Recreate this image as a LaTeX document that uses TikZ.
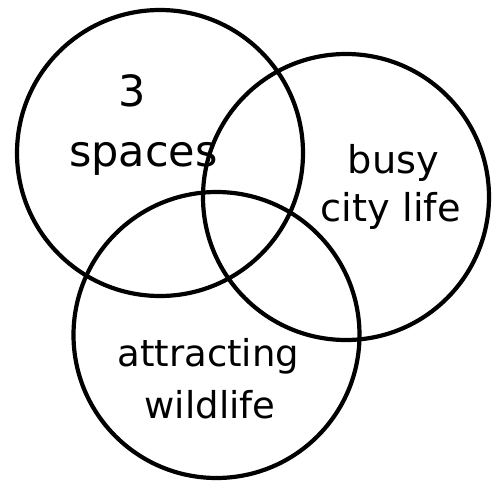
\documentclass[tikz,border=0pt]{standalone}
\usepackage{fontspec}
\setmainfont{DejaVu Sans}
\begin{document}
\begin{tikzpicture}[x=1pt,y=-1pt,
  ring/.style={circle,draw=black,line width=4.2pt,minimum size=286pt,inner sep=0pt,outer sep=0pt},
  lblA/.style={anchor=base,inner sep=0pt,font=\fontsize{43}{43}\selectfont},
  lblB/.style={anchor=base,inner sep=0pt,font=\fontsize{38.3}{38.3}\selectfont},
  lblC/.style={anchor=base,inner sep=0pt,font=\fontsize{37}{37}\selectfont}]
\useasboundingbox (0,0) rectangle (499,482);
\node[ring] (c1) at (160,153) {};
\node[ring] (c2) at (346,197) {};
\node[ring] (c3) at (216.5,335) {};
\node[lblA] (t3) at (131.7,106.7) {3};
\node[lblA] (tspaces) at (143.3,166.7) {spaces};
\node[lblB] (tbusy) at (393.3,173.3) {busy};
\node[lblB] (tcity) at (390.8,221.7) {city life};
\node[lblC] (tattr) at (208.3,366.7) {attracting};
\node[lblC] (twild) at (210,418) {wildlife};
\end{tikzpicture}
\end{document}
